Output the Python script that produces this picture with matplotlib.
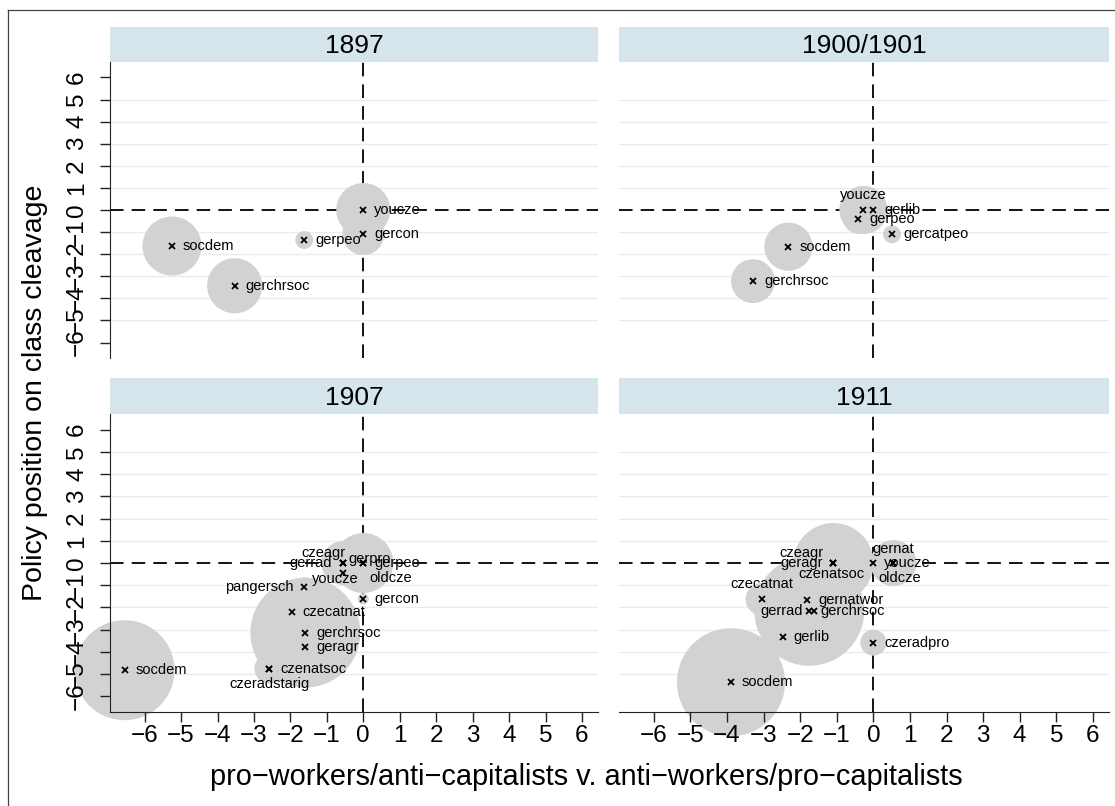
import numpy as np
import matplotlib.pyplot as plt
from matplotlib.lines import Line2D

plt.rcParams['font.family'] = ['Liberation Sans', 'DejaVu Sans']

W, H = 1115, 806

# ---- data (party positions on the class cleavage, bubble weight) ----
years = ['1897', '1900/1901', '1907', '1911']

party_1897 = ['youcze', 'gercon', 'gerpeo', 'socdem', 'gerchrsoc']
x_1897 = [0.0, 0.0, -1.62, -5.25, -3.53]
y_1897 = [0.0, -1.09, -1.36, -1.63, -3.43]
w_1897 = [73, 44, 8, 87, 76]

party_1900 = ['youcze', 'gerlib', 'gerpeo', 'gercatpeo', 'socdem', 'gerchrsoc']
x_1900 = [-0.27, 0.0, -0.41, 0.51, -2.32, -3.29]
y_1900 = [0.0, 0.0, -0.41, -1.10, -1.66, -3.22]
w_1900 = [58, 10, 22, 8, 58, 48]

party_1907 = ['socdem', 'gerpro', 'gerpeo', 'oldcze', 'czeagr', 'gerrad', 'youcze',
              'pangersch', 'gercon', 'czecatnat', 'gerchrsoc', 'geragr',
              'czenatsoc', 'czeradstarig']
x_1907 = [-6.55, -0.55, 0.0, 0.0, -0.55, -0.55, -0.55, -1.62, 0.0, -1.96, -1.59, -1.59, -2.58, -2.58]
y_1907 = [-4.82, 0.0, 0.0, 0.0, 0.0, 0.0, -0.44, -1.10, -1.61, -2.20, -3.13, -3.78, -4.75, -4.75]
w_1907 = [250, 4, 6, 90, 48, 10, 14, 10, 3, 10, 302, 14, 22, 3]

party_1911 = ['socdem', 'czeagr', 'geragr', 'czenatsoc', 'youcze', 'gernat', 'oldcze',
              'czecatnat', 'gernatwor', 'gerrad', 'gerchrsoc', 'gerlib', 'czeradpro']
x_1911 = [-3.89, -1.09, -1.09, -1.09, 0.0, 0.55, 0.55, -3.05, -1.80, -1.62, -1.75, -2.48, 0.0]
y_1911 = [-5.36, 0.0, 0.0, 0.0, 0.0, 0.0, 0.0, -1.63, -1.65, -2.15, -2.15, -3.33, -3.58]
w_1911 = [292, 160, 10, 22, 6, 10, 53, 26, 10, 10, 302, 40, 17]

ticks = list(range(-6, 7))
tick_labels = [str(t).replace('-', '\u2212') for t in ticks]

panels = {
    '1897': (party_1897, x_1897, y_1897, w_1897),
    '1900/1901': (party_1900, x_1900, y_1900, w_1900),
    '1907': (party_1907, x_1907, y_1907, w_1907),
    '1911': (party_1911, x_1911, y_1911, w_1911),
}

# label placement (pixels from marker, alignment); default is to the right
default_lab = (11, 0, 'left')
lab_pos = {
    ('1900/1901', 'youcze'): (0, 15, 'center'),
    ('1907', 'czeagr'): (2, 9.5, 'right'),
    ('1907', 'gerrad'): (-11, 0, 'right'),
    ('1907', 'gerpro'): (5, 3.5, 'left'),
    ('1907', 'youcze'): (-8, -6, 'center'),
    ('1907', 'oldcze'): (6, -15.5, 'left'),
    ('1907', 'pangersch'): (-11, 0, 'right'),
    ('1907', 'czeradstarig'): (0, -15, 'center'),
    ('1911', 'czeagr'): (-10, 9.5, 'right'),
    ('1911', 'geragr'): (-11, 0, 'right'),
    ('1911', 'czenatsoc'): (-2, -11.5, 'center'),
    ('1911', 'gernat'): (0, 14.5, 'center'),
    ('1911', 'oldcze'): (6, -15.5, 'center'),
    ('1911', 'czecatnat'): (0, 15, 'center'),
    ('1911', 'gerrad'): (-11, 0, 'right'),
}

# panel geometry in pixels: (x0, x1), (strip top, plot top, plot bottom)
cols = [(110, 598), (619, 1109)]
rows = [(27, 62, 358), (378, 414, 712)]

XLIM = (-6.95, 6.44)
YLIM = (-6.7, 6.7)
WSCALE = 10 * (2 / (100 / 72)) ** 2   # weight -> marker area (pt^2)

bubble_col = '#d2d2d2'
grid_col = '#e4edf0'
strip_col = '#d6e5eb'

fig = plt.figure(figsize=(W / 100, H / 100), dpi=100)


def rect(x0, y0, x1, y1):
    return [x0 / W, 1 - y1 / H, (x1 - x0) / W, (y1 - y0) / H]


for i, yr in enumerate(years):
    r, c = divmod(i, 2)
    x0, x1 = cols[c]
    st, pt, pb = rows[r]

    sax = fig.add_axes(rect(x0, st, x1, pt))
    sax.set_facecolor(strip_col)
    sax.set_xticks([])
    sax.set_yticks([])
    for s in sax.spines.values():
        s.set_visible(False)
    sax.text(0.5, 0.45, yr, ha='center', va='center', fontsize=19, transform=sax.transAxes)

    ax = fig.add_axes(rect(x0, pt, x1, pb))
    ax.set_xlim(*XLIM)
    ax.set_ylim(*YLIM)
    ax.set_axisbelow(False)
    for s in ['top', 'right']:
        ax.spines[s].set_visible(False)

    for g in range(-5, 6):
        if g != 0:
            ax.axhline(g, color=grid_col, lw=1.0, zorder=0.5)
    ax.axhline(0, color='black', lw=1.3, ls=(0, (7.5, 4.5)), zorder=0.8)
    ax.axvline(0, color='black', lw=1.3, ls=(0, (7.5, 4.5)), zorder=0.8)

    party, xs, ys, ws = panels[yr]
    ax.scatter(xs, ys, s=np.array(ws) * WSCALE, color=bubble_col, linewidths=0,
               zorder=1, clip_on=False)
    ax.plot(xs, ys, 'x', color='black', ms=5, mew=1.3, zorder=3, clip_on=False)
    for p, xv, yv in zip(party, xs, ys):
        dx, dy, ha = lab_pos.get((yr, p), default_lab)
        ax.annotate(p, (xv, yv), xytext=(dx, dy), textcoords='offset pixels',
                    ha=ha, va='center', fontsize=10.5, zorder=4, annotation_clip=False)

    ax.tick_params(length=7.2, width=1.0, color='#222222', labelsize=17.5)
    if c == 0:
        ax.set_yticks(ticks)
        ax.set_yticklabels(tick_labels, rotation=90, va='center')
        ax.tick_params(axis='y', pad=8.5)
        ax.spines['left'].set_color('#222222')
    else:
        ax.set_yticks([])
        ax.spines['left'].set_visible(False)
    if r == 1:
        ax.set_xticks(ticks)
        ax.set_xticklabels(tick_labels)
        ax.tick_params(axis='x', pad=2)
        ax.spines['bottom'].set_color('#222222')
    else:
        ax.set_xticks([])
        ax.spines['bottom'].set_visible(False)

fig.text(586 / W, 1 - 777 / H, 'pro\u2212workers/anti\u2212capitalists v. anti\u2212workers/pro\u2212capitalists',
         ha='center', va='center', fontsize=20.8)
fig.text(35 / W, 1 - 393 / H, 'Policy position on class cleavage', rotation=90,
         ha='center', va='center', fontsize=20.5)

# outer frame (left and top edges visible)
fig.add_artist(Line2D([8 / W, 8 / W], [0, 1 - 9.5 / H], color='#444444', lw=0.9))
fig.add_artist(Line2D([8 / W, 1], [1 - 9.5 / H, 1 - 9.5 / H], color='#444444', lw=0.9))

fig.savefig('out.png', dpi=100)
